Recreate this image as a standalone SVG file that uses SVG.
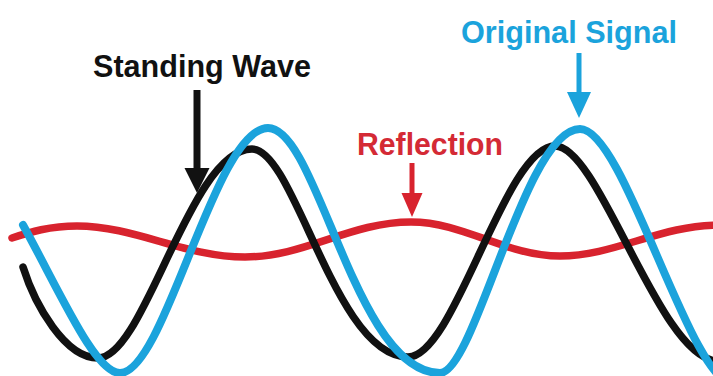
<svg xmlns="http://www.w3.org/2000/svg" width="713" height="376" viewBox="0 0 713 376">
<style>
.wave{fill:none;stroke-linecap:round;stroke-linejoin:round}
.blue{stroke:#1ba3dc;stroke-width:8}
.black{stroke:#111111;stroke-width:7.5}
.red{stroke:#d8232e;stroke-width:7.5}
.lbl{font-family:"Liberation Sans",Arial,Helvetica,sans-serif;font-weight:bold;font-size:32px}
</style>
<rect width="713" height="376" fill="#ffffff"/>
<g id="waves">
<path id="wave-reflection" class="wave red" d="M12,238 C30,232 50,226 77,226 C135,226 185,257 245,257 C305,257 350,222 411,222 C465,222 505,256 560,256 C615,256 660,225 720,225"/>
<path id="wave-standing" class="wave black" d="M23,267 C35,305 65,358 98,358 C145,358 190,149 252,149 C295,149 335,357 408,357 C455,357 505,146 555,146 C600,146 660,361 718,361"/>
<path id="wave-original" class="wave blue" d="M23,225 C60,292 95,373 120,373 C165,373 215,128 268,128 C318,128 355,373 440,373 C475,373 525,129 580,129 C625,129 690,385 735,385"/>
</g>
<g id="label-standing-wave">
<text class="lbl" x="93" y="77" fill="#111111" textLength="218" lengthAdjust="spacingAndGlyphs">Standing Wave</text>
</g>
<g id="label-reflection">
<text class="lbl" x="357" y="155" fill="#d42a35" textLength="146" lengthAdjust="spacingAndGlyphs">Reflection</text>
</g>
<g id="label-original-signal">
<text class="lbl" x="461" y="43" fill="#1ba3dc" textLength="216" lengthAdjust="spacingAndGlyphs">Original Signal</text>
</g>
<g id="connectors">
<line x1="197" y1="90" x2="197" y2="172" stroke="#111111" stroke-width="7"/>
<polygon points="184.5,168 209.5,168 197,193" fill="#111111"/>
<line x1="412" y1="163" x2="412" y2="196" stroke="#d8232e" stroke-width="5"/>
<polygon points="401.5,193 422.5,193 412,217" fill="#d8232e"/>
<line x1="579" y1="53" x2="579" y2="95" stroke="#1ba3dc" stroke-width="5"/>
<polygon points="567,92 591,92 579,118" fill="#1ba3dc"/>
</g>
</svg>
